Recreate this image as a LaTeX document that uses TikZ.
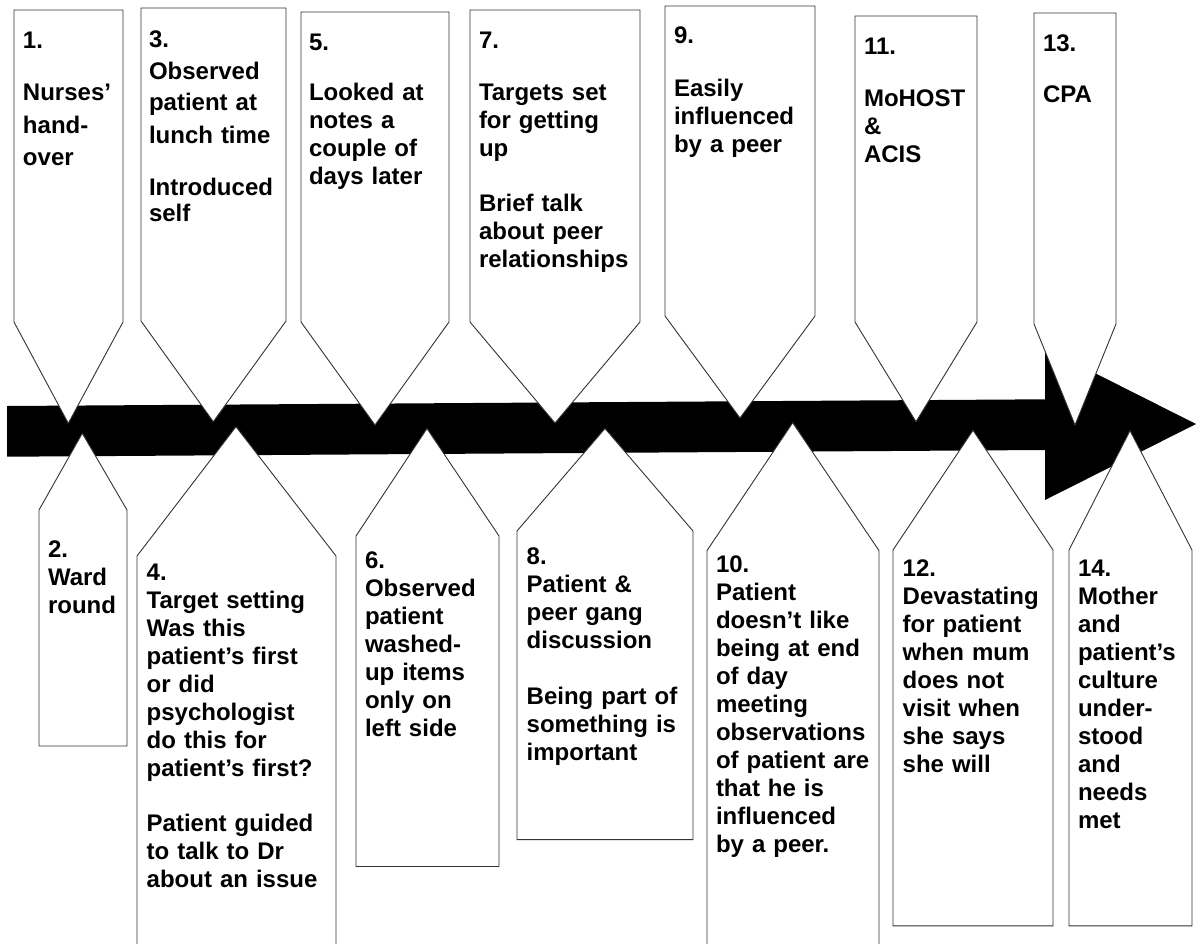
\documentclass[tikz,border=0pt]{standalone}
\usepackage{fontspec}
\setmainfont{Liberation Sans}
\begin{document}
\begin{tikzpicture}[x=1pt,y=-1pt,
  tagline/.style={draw=black!80, line width=0.9pt, fill=white, line join=miter},
  lbl/.style={anchor=base west, inner sep=0pt, outer sep=0pt, align=left,
    text width=200pt, font=\bfseries\fontsize{24}{28}\selectfont},
  timeline/.style={fill=black}]
% page frame
\useasboundingbox (0,0) rectangle (1200,943);
\clip (0,0) rectangle (1200,943);

% a tag: left, right, flat end, shoulder, tip x, tip y
\newcommand{\tagshape}[6]{%
  \path[tagline] (#1,#3) -- (#2,#3) -- (#2,#4) -- (#5,#6) -- (#1,#4) -- cycle;}

% the time line arrow
\fill[timeline] (7,406) -- (1045,399.3) -- (1045,348) -- (1196,424)
  -- (1045,500) -- (1045,450) -- (7,456.7) -- cycle;

% tags above the line, pointing down
\tagshape{14}{123}{10}{322}{68.3}{423.3}
\tagshape{141}{286}{8}{321}{213.3}{421.7}
\tagshape{301}{449}{12}{322}{375}{425}
\tagshape{470}{640}{10}{322}{555}{423}
\tagshape{665}{815}{6}{316}{740}{418}
\tagshape{855}{977}{16}{322}{916}{421.7}
\tagshape{1034}{1116}{13}{324}{1075}{425}

% tags below the line, pointing up
\tagshape{39}{127}{746}{510}{82.3}{433.3}
\tagshape{137}{336}{970}{556}{236}{426.7}
\tagshape{356}{499}{866.5}{536}{427}{428.5}
\tagshape{517}{693}{839.6}{531}{605}{428.5}
\tagshape{707}{879}{970}{550.6}{792.7}{422.7}
\tagshape{893}{1053}{925.8}{550}{973}{430.3}
\tagshape{1069}{1192}{925.8}{550}{1130}{430.7}

% texts above the line
\node[lbl] (t1) at (23,48) {1.\\[24.7pt]Nurses’\\[4.5pt]hand-\\[4.5pt]over};
\node[lbl] (t3) at (149,47.7) {3.\\[3.3pt]Observed\\[3.7pt]patient at\\[4.6pt]lunch time\\[23.7pt]Introduced\\[-1.3pt]self};
\node[lbl] (t5) at (309,50) {5.\\[22.7pt]Looked at\\notes a\\couple of\\days later};
\node[lbl] (t7) at (479,48) {7.\\[24pt]Targets set\\for getting\\up\\[27.7pt]Brief talk\\about peer\\relationships};
\node[lbl] (t9) at (674,43.3) {9.\\[25.4pt]Easily\\influenced\\by a peer};
\node[lbl] (t11) at (864,54.3) {11.\\[23.7pt]MoHOST\\\&\\ACIS};
\node[lbl] (t13) at (1043,51) {13.\\[23.3pt]CPA};

% texts below the line
\node[lbl] (t2) at (48,557.7) {2.\\Ward\\round};
\node[lbl] (t4) at (146.7,580) {4.\\Target setting\\Was this\\patient’s first\\or did\\psychologist\\do this for\\patient’s first?\\[27.6pt]Patient guided\\to talk to Dr\\about an issue};
\node[lbl] (t6) at (365,568.5) {6.\\Observed\\patient\\washed-\\up items\\only on\\left side};
\node[lbl] (t8) at (526.7,564.9) {8.\\Patient \&\\peer gang\\discussion\\[27.7pt]Being part of\\something is\\important};
\node[lbl] (t10) at (716,572.1) {10.\\Patient\\doesn’t like\\being at end\\of day\\meeting\\observations\\of patient are\\that he is\\influenced\\by a peer.};
\node[lbl] (t12) at (902.7,576.8) {12.\\Devastating\\for patient\\when mum\\does not\\visit when\\she says\\she will};
\node[lbl] (t14) at (1078,576.8) {14.\\Mother\\and\\patient’s\\culture\\under-\\stood\\and\\needs\\met};
\end{tikzpicture}
\end{document}
